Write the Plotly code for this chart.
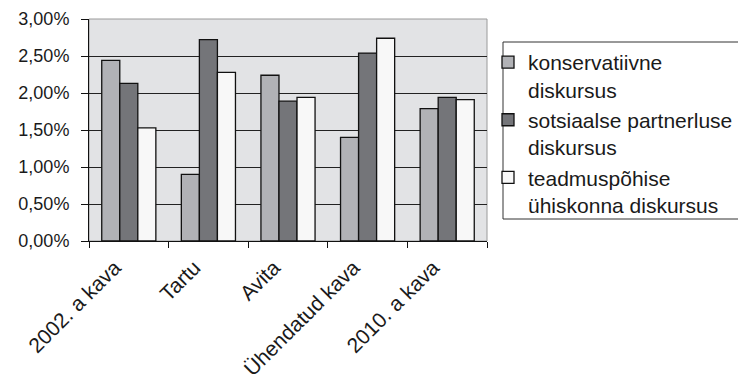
import plotly.graph_objects as go

categories = ["2002. a kava", "Tartu", "Avita", "Ühendatud kava", "2010. a kava"]
series_names = ["konservatiivne<br>diskursus",
                "sotsiaalse partnerluse<br>diskursus",
                "teadmuspõhise<br>ühiskonna diskursus"]
konservatiivne = [0.0244, 0.0090, 0.0224, 0.0140, 0.0179]
sotsiaalse = [0.0213, 0.0272, 0.0189, 0.0254, 0.0194]
teadmus = [0.0153, 0.0228, 0.0194, 0.0274, 0.0191]
y_ticks = [0, 0.005, 0.01, 0.015, 0.02, 0.025, 0.03]

colors = ["#b1b2b6", "#747579", "#f8f8f8"]
values = [konservatiivne, sotsiaalse, teadmus]

FONT = "Arial, 'Liberation Sans', sans-serif"

W, H = 738, 380
L, R, T, B = 89, 0, 19, 139
plot_w = 398
paper_w = W - L - R
paper_h = H - T - B


def px_x(p):
    return (p - L) / paper_w


def px_y(p):
    return (H - B - p) / paper_h


fig = go.Figure()
for name, vals, col in zip(series_names, values, colors):
    fig.add_trace(go.Bar(
        x=categories, y=vals, name=name,
        marker=dict(color=col, line=dict(color="#111111", width=1.3)),
    ))

fig.update_layout(
    width=W, height=H,
    margin=dict(l=L, r=R, t=T, b=B, autoexpand=False),
    paper_bgcolor="white",
    plot_bgcolor="#e2e3e5",
    barmode="group", bargap=0.32, bargroupgap=0,
    separators=", ",
    font=dict(family=FONT, size=20, color="#1a1a1a"),
    showlegend=True,
    legend=dict(
        x=px_x(488), y=px_y(42), xanchor="left", yanchor="top",
        bgcolor="rgba(0,0,0,0)", borderwidth=0,
        font=dict(family=FONT, size=21, color="#1a1a1a"),
        valign="top",
    ),
    shapes=[
        dict(type="rect", xref="x domain", yref="y domain", x0=0, x1=1, y0=0, y1=1,
             line=dict(color="#9a9a9a", width=1), layer="below"),
        dict(type="rect", xref="paper", yref="paper",
             x0=px_x(503), x1=px_x(745), y0=px_y(219), y1=px_y(42),
             line=dict(color="#333333", width=1), fillcolor="rgba(0,0,0,0)",
             layer="below"),
    ],
)
fig.update_xaxes(
    domain=[0, plot_w / paper_w],
    showline=True, linecolor="#111111", linewidth=1,
    ticks="outside", tickson="boundaries", ticklen=6, tickcolor="#111111",
    tickangle=-45, showgrid=False, tickfont=dict(size=21),
    ticklabelshift=-14, ticklabelstandoff=5,
)
fig.update_yaxes(
    range=[0, 0.03], tickvals=y_ticks, tickformat=".2%",
    showline=True, linecolor="#111111", linewidth=1,
    ticks="outside", ticklen=7, tickcolor="#111111", ticklabelstandoff=8,
    showgrid=True, gridcolor="#222222", gridwidth=1, zeroline=False,
    tickfont=dict(size=18),
)

fig.write_html("out.html")
